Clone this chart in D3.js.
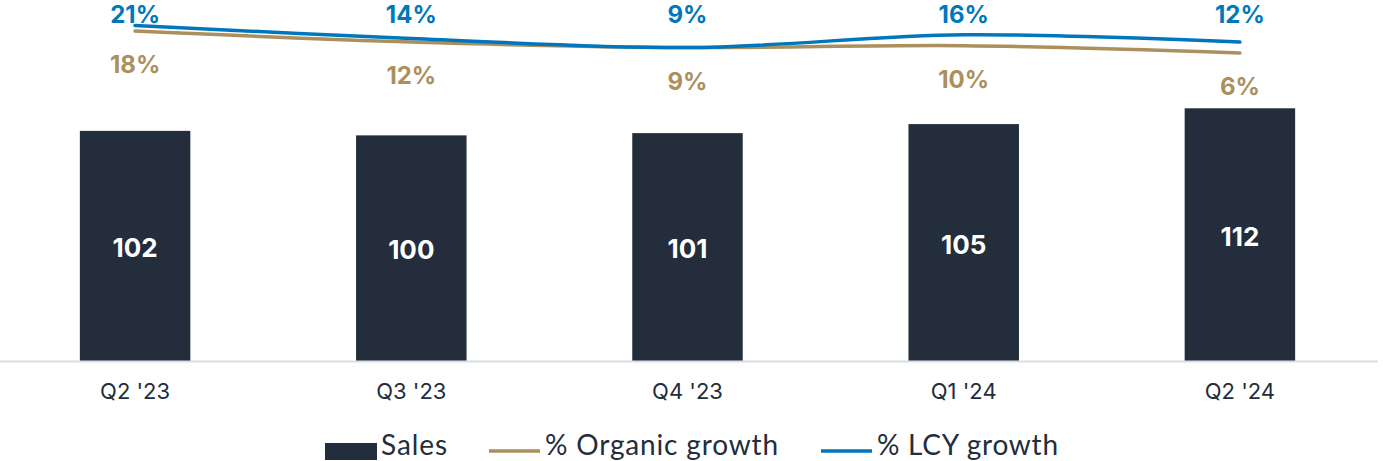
<!DOCTYPE html>
<html>
<head>
<meta charset="utf-8">
<script src="https://cdn.jsdelivr.net/npm/d3@7"></script>
<style>
  html, body { margin: 0; padding: 0; background: #ffffff; }
  svg { display: block; }
</style>
</head>
<body>
<svg id="chart" width="1383" height="461"></svg>
<script>
// Quarterly sales with organic and local-currency growth rates
const quarters = ["Q2 '23", "Q3 '23", "Q4 '23", "Q1 '24", "Q2 '24"];
const sales = [102, 100, 101, 105, 112];
const organicGrowth = [18, 12, 9, 10, 6];
const lcyGrowth = [21, 14, 9, 16, 12];
const legendLabels = ["Sales", "% Organic growth", "% LCY growth"];

const colors = { sales: "#232d3b", organic: "#ab8f5c", lcy: "#0077bd", axis: "#d9dde6", text: "#232d3b" };
const font = "Inter, 'Open Sans', sans-serif";

const svg = d3.select("#chart");
const baseline = 361;

const x = d3.scaleBand().domain(quarters).range([-3, 1378]).paddingInner(0.6).paddingOuter(0.3);
const ySales = d3.scaleLinear().domain([0, 160]).range([baseline, 0]);
const yPct = d3.scaleLinear().domain([0, 35]).range([64, 0]);

// Bars
svg.append("g").selectAll("rect").data(sales).join("rect")
  .attr("x", (d, i) => x(quarters[i]))
  .attr("y", d => ySales(d))
  .attr("width", x.bandwidth())
  .attr("height", d => baseline - ySales(d))
  .attr("fill", colors.sales);

// Bar value labels
svg.append("g").selectAll("text").data(sales).join("text")
  .attr("x", (d, i) => x(quarters[i]) + x.bandwidth() / 2)
  .attr("y", d => (ySales(d) + baseline) / 2 + 11)
  .attr("text-anchor", "middle")
  .attr("font-family", font).attr("font-weight", 700).attr("font-size", 26)
  .attr("fill", "#ffffff")
  .text(d => d);

// Category axis
const xAxis = svg.append("g").attr("transform", `translate(0,${baseline})`)
  .call(d3.axisBottom(x).tickSize(0).tickPadding(32));
xAxis.select(".domain").attr("d", "M0,0.5H1378").attr("stroke", colors.axis).attr("stroke-width", 2);
xAxis.selectAll("text")
  .attr("font-family", font).attr("font-size", 22).attr("fill", colors.text)
  .attr("dy", "0.25em");

// Growth lines
const cx = i => x(quarters[i]) + x.bandwidth() / 2;
const line = d3.line().x((d, i) => cx(i)).y(d => yPct(d)).curve(d3.curveCatmullRom.alpha(0.5));

svg.append("path").datum(organicGrowth)
  .attr("d", line).attr("fill", "none")
  .attr("stroke", colors.organic).attr("stroke-width", 3.5).attr("stroke-linecap", "round");
svg.append("path").datum(lcyGrowth)
  .attr("d", line).attr("fill", "none")
  .attr("stroke", colors.lcy).attr("stroke-width", 3.5).attr("stroke-linecap", "round");

// Growth labels
svg.append("g").selectAll("text").data(lcyGrowth).join("text")
  .attr("x", (d, i) => cx(i))
  .attr("y", 23)
  .attr("text-anchor", "middle")
  .attr("font-family", font).attr("font-weight", 700).attr("font-size", 24)
  .attr("fill", colors.lcy)
  .text(d => d + "%");
svg.append("g").selectAll("text").data(organicGrowth).join("text")
  .attr("x", (d, i) => cx(i))
  .attr("y", d => yPct(d) + 42)
  .attr("text-anchor", "middle")
  .attr("font-family", font).attr("font-weight", 700).attr("font-size", 24)
  .attr("fill", colors.organic)
  .text(d => d + "%");

// Legend
const legend = svg.append("g").attr("font-family", "Lato, sans-serif").attr("font-size", 28).attr("fill", colors.text);
legend.append("rect").attr("x", 325).attr("y", 443).attr("width", 52).attr("height", 17).attr("fill", colors.sales);
legend.append("text").attr("x", 381).attr("y", 455).attr("textLength", 66).text(legendLabels[0]);
legend.append("line").attr("x1", 489).attr("x2", 540).attr("y1", 451).attr("y2", 451)
  .attr("stroke", colors.organic).attr("stroke-width", 3.5);
legend.append("text").attr("x", 545).attr("y", 455).attr("textLength", 233).text(legendLabels[1]);
legend.append("line").attr("x1", 821).attr("x2", 872).attr("y1", 451).attr("y2", 451)
  .attr("stroke", colors.lcy).attr("stroke-width", 3.5);
legend.append("text").attr("x", 877).attr("y", 455).attr("textLength", 181).text(legendLabels[2]);
</script>
</body>
</html>
